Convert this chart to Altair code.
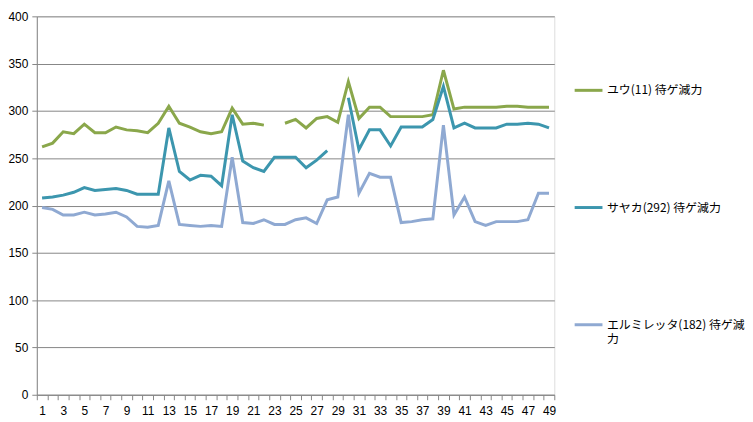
import altair as alt
import pandas as pd

x_values = list(range(1, 50))

yu = [262, 266, 278, 276, 286, 277, 277, 283, 280, 279, 277, 287, 305, 287, 283, 278, 276, 278, 303, 286,
      287, 285, None, 287, 291, 282, 292, 294, 288, 331, 292, 304, 304, 294, 294, 294, 294, 296, 343, 302,
      304, 304, 304, 304, 305, 305, 304, 304, 304]
sayaka = [208, 209, 211, 214, 219, 216, 217, 218, 216, 212, 212, 212, 282, 236, 227, 232, 231, 221, 296, 247,
          240, 236, 251, 251, 251, 240, 248, 258, None, 314, 259, 280, 280, 263, 283, 283, 283, 291, 326, 282,
          287, 282, 282, 282, 286, 286, 287, 286, 282]
elm = [198, 196, 190, 190, 193, 190, 191, 193, 188, 178, 177, 179, 226, 180, 179, 178, 179, 178, 251, 182,
       181, 185, 180, 180, 185, 187, 181, 206, 209, 296, 213, 234, 230, 230, 182, 183, 185, 186, 285, 190,
       209, 183, 179, 183, 183, 183, 185, 213, 213]

series_names = ["ユウ(11) 待ゲ減力", "サヤカ(292) 待ゲ減力", "エルミレッタ(182) 待ゲ減力"]
series_colors = ["#8AA74B", "#3C96AE", "#8FA9D2"]

rows = []
for name, vals in zip(series_names, [yu, sayaka, elm]):
    for xv, yv in zip(x_values, vals):
        rows.append({"series": name, "x": xv, "y": yv})
df = pd.DataFrame(rows)

label_expr = ("datum.label == 'エルミレッタ(182) 待ゲ減力' ? ['エルミレッタ(182) 待ゲ減', '力'] : datum.label")

chart = alt.Chart(df).mark_line(strokeWidth=3, invalid="break-paths-show-domains").encode(
    x=alt.X("x:O", scale=alt.Scale(domain=x_values, paddingInner=0, paddingOuter=0),
            axis=alt.Axis(title=None, labelAngle=0, tickBand="extent", tickSize=5,
                          labelExpr="datum.value % 2 == 1 ? datum.label : ''",
                          domainColor="#868686", tickColor="#868686", labelPadding=6,
                          labelFont="Liberation Sans", labelFontSize=12, labelColor="#000000", grid=False)),
    y=alt.Y("y:Q", scale=alt.Scale(domain=[0, 400], nice=False),
            axis=alt.Axis(title=None, values=list(range(0, 401, 50)), tickSize=5,
                          domainColor="#868686", tickColor="#868686", gridColor="#868686",
                          labelFont="Liberation Sans", labelFontSize=12, labelColor="#000000",
                          labelPadding=4)),
    color=alt.Color("series:N", scale=alt.Scale(domain=series_names, range=series_colors),
                    sort=series_names,
                    legend=alt.Legend(title=None, orient="none", legendX=540, legendY=59, padding=0,
                                      symbolType="stroke", symbolStrokeWidth=3, symbolSize=784,
                                      rowPadding=96, labelFont="Noto Sans CJK JP", labelFontSize=12,
                                      labelColor="#000000", labelLimit=200, labelOffset=3,
                                      labelExpr=label_expr)),
).properties(
    width=521, height=381,
    autosize=alt.AutoSizeParams(type="none"),
    padding={"left": 29, "top": 7, "right": 192, "bottom": 22},
).configure_view(stroke=None).configure(background="white")

chart.save("out.html", embed_options={"renderer": "svg", "actions": False})
